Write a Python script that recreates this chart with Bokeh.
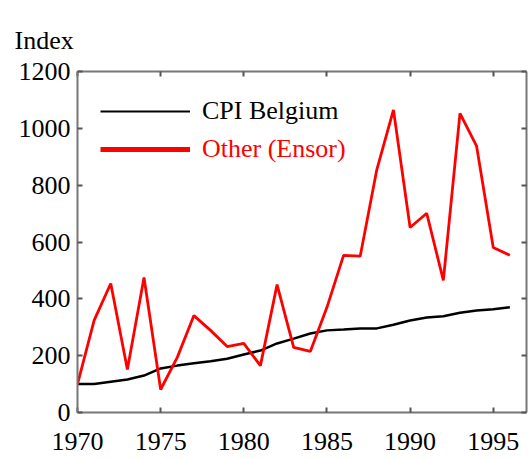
from bokeh.plotting import figure
from bokeh.models import (LinearAxis, Range1d, FixedTicker, Legend, LegendItem)
from bokeh.embed import file_html
from bokeh.resources import INLINE

years = list(range(1970, 1997))
cpi_belgium = [100, 100, 108, 116, 130, 155, 165, 173, 180, 189, 204, 218, 243, 260, 278,
               289, 292, 296, 296, 309, 324, 334, 339, 351, 359, 363, 370]
other_ensor = [100, 324, 454, 151, 475, 81, 194, 341, 289, 232, 243, 165, 450, 229, 215,
               370, 553, 550, 855, 1065, 651, 701, 465, 1053, 937, 581, 553]
x_ticks = [1970, 1975, 1980, 1985, 1990, 1995]
y_ticks = [0, 200, 400, 600, 800, 1000, 1200]

FONT = "'Liberation Serif', 'Times New Roman', serif"
AXC = "#777777"

p = figure(width=531, height=459, output_backend="svg", toolbar_location=None,
           x_range=Range1d(1970, 1997), y_range=Range1d(0, 1200),
           x_axis_location=None, y_axis_location=None,
           min_border_left=77, min_border_right=5, min_border_top=71, min_border_bottom=47)
p.outline_line_color = None
p.grid.visible = False
p.background_fill_color = "white"
p.border_fill_color = "white"

p.title.text = "Index"
p.title.align = "left"
p.title.vertical_align = "top"
p.title.offset = -63
p.title.text_font = FONT
p.title.text_font_size = "26px"
p.title.text_font_style = "normal"
p.title.text_color = "black"
p.title.standoff = 30

def make_axis(ticks, labels):
    ax = LinearAxis(ticker=FixedTicker(ticks=ticks))
    ax.axis_line_color = AXC
    ax.axis_line_width = 2
    ax.major_tick_line_color = "#555555"
    ax.major_tick_line_width = 2
    ax.major_tick_in = 5
    ax.major_tick_out = 0
    ax.minor_tick_in = 0
    ax.minor_tick_out = 0
    ax.major_label_text_font = FONT
    ax.major_label_text_font_size = "26px"
    ax.major_label_text_color = "black"
    if not labels:
        ax.major_label_overrides = {t: "" for t in ticks}
        ax.major_label_standoff = 0
        ax.major_label_text_font_size = "1px"
    return ax

bottom = make_axis(x_ticks, True); bottom.major_label_standoff = 20
top = make_axis(x_ticks, False)
left = make_axis(y_ticks, True); left.major_label_standoff = 7
right = make_axis(y_ticks, False)
p.add_layout(bottom, "below")
p.add_layout(top, "above")
p.add_layout(left, "left")
p.add_layout(right, "right")

r_cpi = p.line(years, cpi_belgium, line_color="black", line_width=2.5)
r_oth = p.line(years, other_ensor, line_color="#ff0000", line_width=2.8)
leg_cpi = p.line([1970], [-1000], line_color="black", line_width=2)
leg_oth = p.line([1970], [-1000], line_color="#ff0000", line_width=5)

def make_legend(rend, text, color, loc):
    lg = Legend(items=[LegendItem(label=text, renderers=[rend])], location=loc)
    lg.border_line_color = None
    lg.background_fill_alpha = 0
    lg.padding = 0
    lg.margin = 0
    lg.glyph_width = 90
    lg.glyph_height = 24
    lg.label_standoff = 12
    lg.label_text_font = FONT
    lg.label_text_font_size = "26px"
    lg.label_text_color = color
    lg.label_height = 24
    return lg

p.add_layout(make_legend(leg_cpi, "CPI Belgium", "black", (23, 286)))
p.add_layout(make_legend(leg_oth, "Other (Ensor)", "#ff0000", (23, 248)))

open("out.html", "w").write(file_html(p, INLINE))
